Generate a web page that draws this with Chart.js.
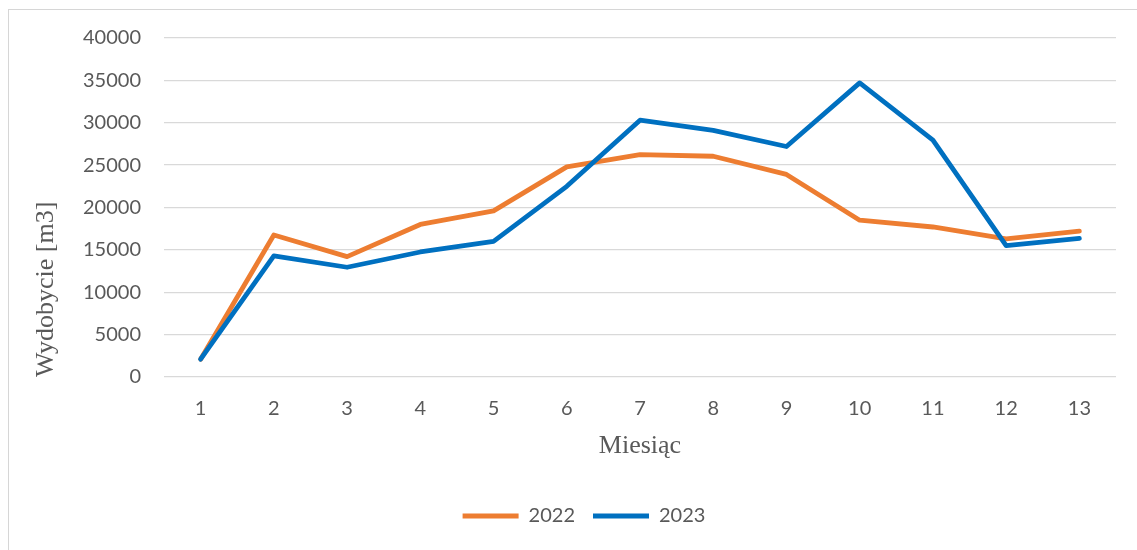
<!DOCTYPE html>
<html>
<head>
<meta charset="utf-8">
<script src="https://cdn.jsdelivr.net/npm/chart.js@4.4.1/dist/chart.umd.min.js"></script>
<style>
  html, body { margin: 0; padding: 0; background: #fff; overflow: hidden; }
  #frame { position: absolute; left: 8px; top: 9px; width: 1300px; height: 700px; border-left: 1.5px solid #d6d6d6; border-top: 1.5px solid #d6d6d6; }
  #wrap { position: absolute; left: 0; top: 0; width: 1137px; height: 550px; }
</style>
</head>
<body>
<div id="frame"></div>
<div id="wrap"><canvas id="c" width="1137" height="550"></canvas></div>
<script>
const months = ['1','2','3','4','5','6','7','8','9','10','11','12','13'];
const series2022 = [2100, 16750, 14200, 18000, 19600, 24800, 26250, 26050, 23900, 18500, 17700, 16300, 17200];
const series2023 = [2100, 14300, 12950, 14750, 16000, 22500, 30300, 29100, 27200, 34700, 27950, 15500, 16350];
const yMin = 0, yMax = 40000, yStep = 5000;
const yTitle = 'Wydobycie [m3]';
const xTitle = 'Miesiąc';

const tickFont = { family: 'Lato', size: 20 };
const titleFont = { family: 'Liberation Serif', size: 26 };
const textColor = '#595959';

new Chart(document.getElementById('c'), {
  type: 'line',
  data: {
    labels: months,
    datasets: [
      { label: '2022', data: series2022, borderColor: '#ED7D31', backgroundColor: '#ED7D31', borderWidth: 4.8, pointRadius: 0, tension: 0, borderCapStyle: 'round', borderJoinStyle: 'round', order: 1 },
      { label: '2023', data: series2023, borderColor: '#0070C0', backgroundColor: '#0070C0', borderWidth: 4.8, pointRadius: 0, tension: 0, borderCapStyle: 'round', borderJoinStyle: 'round', order: 0 }
    ]
  },
  options: {
    responsive: false,
    animation: false,
    layout: { padding: { left: 52, right: 21, top: 38, bottom: 14 } },
    plugins: {
      tooltip: { enabled: false },
      legend: {
        position: 'bottom',
        labels: {
          font: tickFont,
          color: textColor,
          usePointStyle: true,
          pointStyle: 'line',
          pointStyleWidth: 56,
          padding: 18,
          sort: (a, b) => a.datasetIndex - b.datasetIndex
        }
      }
    },
    scales: {
      x: {
        type: 'category',
        offset: true,
        grid: { display: false, drawTicks: false },
        border: { display: false },
        ticks: { font: tickFont, color: textColor, padding: 20, maxRotation: 0 },
        title: { display: true, text: xTitle, font: titleFont, color: textColor, padding: { top: 0, bottom: 26 } },
        afterFit: (s) => { s.height = 111; }
      },
      y: {
        min: yMin, max: yMax,
        grid: { color: '#d9d9d9', lineWidth: 1.3, drawTicks: false },
        border: { display: false },
        ticks: { stepSize: yStep, font: tickFont, color: textColor, padding: 23, callback: (v) => String(v) },
        title: { display: true, text: yTitle, align: 'start', font: titleFont, color: textColor, padding: { top: -21.6, bottom: 0 } },
        afterFit: (s) => { s.width = 112; }
      }
    }
  }
});
</script>
</body>
</html>
